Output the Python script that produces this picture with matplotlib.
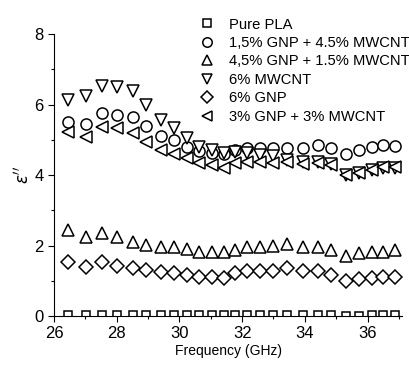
import matplotlib
matplotlib.use("Agg")
import matplotlib.pyplot as plt
from matplotlib.ticker import MultipleLocator

plt.rcParams['font.family'] = ['Liberation Sans', 'DejaVu Sans']
plt.rcParams['mathtext.fontset'] = 'dejavusans'

# frequency points (GHz)
freq = [26.46, 27.02, 27.52, 28.01, 28.52, 28.95, 29.40, 29.83, 30.24, 30.62,
        31.03, 31.41, 31.77, 32.16, 32.57, 33.00, 33.44, 33.93, 34.41, 34.85,
        35.31, 35.73, 36.13, 36.50, 36.87]

pure_pla = [0.04, 0.03, 0.03, 0.03, 0.03, 0.03, 0.03, 0.03, 0.03, 0.02,
            0.02, 0.02, 0.03, 0.03, 0.02, 0.02, 0.02, 0.02, 0.02, 0.02,
            0.01, 0.01, 0.02, 0.03, 0.03]
gnp15_cnt45 = [5.52, 5.44, 5.76, 5.71, 5.66, 5.38, 5.11, 5.00, 4.81, 4.67,
               4.64, 4.60, 4.72, 4.78, 4.76, 4.78, 4.78, 4.78, 4.84, 4.76,
               4.60, 4.70, 4.81, 4.86, 4.83]
gnp45_cnt15 = [2.44, 2.25, 2.35, 2.23, 2.11, 2.02, 1.97, 1.95, 1.89, 1.83,
               1.83, 1.83, 1.88, 1.95, 1.97, 1.99, 2.05, 1.97, 1.95, 1.88,
               1.70, 1.78, 1.81, 1.83, 1.88]
cnt6 = [6.14, 6.25, 6.53, 6.50, 6.40, 5.99, 5.55, 5.33, 5.05, 4.81,
        4.70, 4.62, 4.65, 4.62, 4.57, 4.53, 4.43, 4.38, 4.37, 4.31,
        3.99, 4.05, 4.13, 4.20, 4.20]
gnp6 = [1.54, 1.40, 1.52, 1.43, 1.37, 1.31, 1.26, 1.21, 1.16, 1.12,
        1.12, 1.07, 1.21, 1.29, 1.29, 1.29, 1.35, 1.29, 1.29, 1.16,
        0.98, 1.04, 1.07, 1.12, 1.12]
gnp3_cnt3 = [5.21, 5.09, 5.36, 5.33, 5.19, 4.95, 4.70, 4.60, 4.48, 4.34,
             4.29, 4.21, 4.34, 4.38, 4.36, 4.34, 4.38, 4.32, 4.34, 4.29,
             4.01, 4.07, 4.15, 4.24, 4.24]

series = [
    (pure_pla, 's', 6, 'Pure PLA'),
    (gnp15_cnt45, 'o', 8, '1,5% GNP + 4.5% MWCNT'),
    (gnp45_cnt15, '^', 8.5, '4,5% GNP + 1.5% MWCNT'),
    (cnt6, 'v', 8.5, '6% MWCNT'),
    (gnp6, 'D', 7, '6% GNP'),
    (gnp3_cnt3, '<', 8.5, '3% GNP + 3% MWCNT'),
]

fig = plt.figure(figsize=(4.09, 3.67), dpi=100)
ax = fig.add_axes([0.132, 0.139, 0.851, 0.768])

handles = []
for vals, mk, ms, lab in series:
    h, = ax.plot(freq, vals, linestyle='none', marker=mk, markersize=ms,
                 markerfacecolor='white', markeredgecolor='black',
                 markeredgewidth=1.1, label=lab)
    handles.append(h)

ax.set_xlim(26, 37.1)
ax.set_ylim(0, 8)
ax.xaxis.set_major_locator(MultipleLocator(2))
ax.xaxis.set_minor_locator(MultipleLocator(1))
ax.yaxis.set_major_locator(MultipleLocator(2))
ax.yaxis.set_minor_locator(MultipleLocator(1))
ax.tick_params(which='major', direction='out', length=4, width=0.8, labelsize=12, pad=3.5)
ax.tick_params(which='minor', direction='out', length=2.5, width=0.8)
ax.spines['top'].set_visible(False)
ax.spines['right'].set_visible(False)

ax.set_xlabel('Frequency (GHz)', fontsize=10, labelpad=2)
ax.set_ylabel(r"$\varepsilon''$", fontsize=12, labelpad=2)

fig.legend(handles=handles, loc='upper left', bbox_to_anchor=(0.489, 0.952),
           frameon=False, fontsize=10.6, handlelength=1.0, handletextpad=1.0,
           labelspacing=0.3, borderpad=0, borderaxespad=0, markerscale=0.85)

fig.savefig('out.png', dpi=100)
